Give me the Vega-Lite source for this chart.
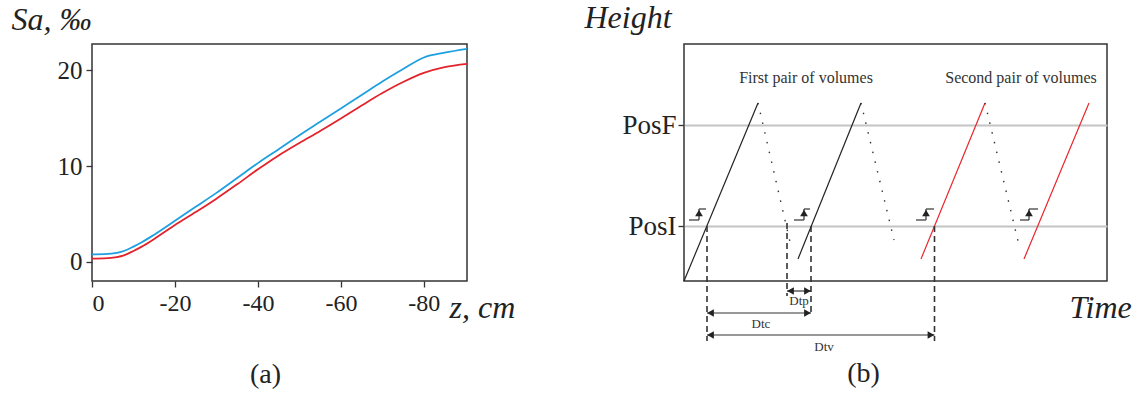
{
  "$schema": "https://vega.github.io/schema/vega-lite/v6.json",
  "padding": {"left": 10, "top": 0, "right": 0, "bottom": 0},
  "bounds": "flush",
  "spacing": 217,
  "config": {
    "view": {"stroke": "#333", "strokeWidth": 1.5},
    "font": "Liberation Serif",
    "axis": {
      "labelFont": "Liberation Serif",
      "titleFont": "Liberation Serif",
      "labelColor": "#222",
      "tickColor": "#333",
      "tickWidth": 1.3,
      "domain": false,
      "grid": false,
      "titleFontWeight": "normal",
      "titleFontStyle": "italic",
      "titleColor": "#222"
    }
  },
  "datasets": {
    "salinity": [
      {"z": 0, "Sa": 0.8, "series": "upper"},
      {"z": -3, "Sa": 0.82, "series": "upper"},
      {"z": -6, "Sa": 0.95, "series": "upper"},
      {"z": -8, "Sa": 1.2, "series": "upper"},
      {"z": -10, "Sa": 1.6, "series": "upper"},
      {"z": -12, "Sa": 2.05, "series": "upper"},
      {"z": -15, "Sa": 2.85, "series": "upper"},
      {"z": -20, "Sa": 4.3, "series": "upper"},
      {"z": -25, "Sa": 5.75, "series": "upper"},
      {"z": -30, "Sa": 7.2, "series": "upper"},
      {"z": -35, "Sa": 8.75, "series": "upper"},
      {"z": -40, "Sa": 10.3, "series": "upper"},
      {"z": -45, "Sa": 11.75, "series": "upper"},
      {"z": -50, "Sa": 13.2, "series": "upper"},
      {"z": -55, "Sa": 14.6, "series": "upper"},
      {"z": -60, "Sa": 16.0, "series": "upper"},
      {"z": -65, "Sa": 17.4, "series": "upper"},
      {"z": -70, "Sa": 18.8, "series": "upper"},
      {"z": -75, "Sa": 20.1, "series": "upper"},
      {"z": -80, "Sa": 21.3, "series": "upper"},
      {"z": -85, "Sa": 21.8, "series": "upper"},
      {"z": -90.4, "Sa": 22.2, "series": "upper"},
      {"z": 0, "Sa": 0.35, "series": "lower"},
      {"z": -3, "Sa": 0.37, "series": "lower"},
      {"z": -6, "Sa": 0.5, "series": "lower"},
      {"z": -8, "Sa": 0.75, "series": "lower"},
      {"z": -10, "Sa": 1.15, "series": "lower"},
      {"z": -12, "Sa": 1.6, "series": "lower"},
      {"z": -15, "Sa": 2.4, "series": "lower"},
      {"z": -20, "Sa": 3.85, "series": "lower"},
      {"z": -25, "Sa": 5.2, "series": "lower"},
      {"z": -30, "Sa": 6.6, "series": "lower"},
      {"z": -35, "Sa": 8.1, "series": "lower"},
      {"z": -40, "Sa": 9.65, "series": "lower"},
      {"z": -45, "Sa": 11.1, "series": "lower"},
      {"z": -50, "Sa": 12.4, "series": "lower"},
      {"z": -55, "Sa": 13.65, "series": "lower"},
      {"z": -60, "Sa": 14.95, "series": "lower"},
      {"z": -65, "Sa": 16.3, "series": "lower"},
      {"z": -70, "Sa": 17.6, "series": "lower"},
      {"z": -75, "Sa": 18.75, "series": "lower"},
      {"z": -80, "Sa": 19.7, "series": "lower"},
      {"z": -85, "Sa": 20.3, "series": "lower"},
      {"z": -90.4, "Sa": 20.65, "series": "lower"}
    ],
    "segments": [
      {"t1": 0, "h1": 0, "t2": 74, "h2": 178, "kind": "solid"},
      {"t1": 114, "h1": 22, "t2": 177, "h2": 178, "kind": "solid"},
      {"t1": 237, "h1": 22, "t2": 301, "h2": 178, "kind": "red"},
      {"t1": 340, "h1": 22, "t2": 405, "h2": 178, "kind": "red"},
      {"t1": 74, "h1": 178, "t2": 106, "h2": 39, "kind": "dotted"},
      {"t1": 177, "h1": 178, "t2": 210, "h2": 41, "kind": "dotted"},
      {"t1": 301, "h1": 178, "t2": 334, "h2": 40, "kind": "dotted"},
      {"t1": 23, "h1": 55, "t2": 23, "h2": -60, "kind": "dashed"},
      {"t1": 103, "h1": 58, "t2": 103, "h2": -15, "kind": "dashed"},
      {"t1": 127, "h1": 55, "t2": 127, "h2": -35, "kind": "dashed"},
      {"t1": 250.5, "h1": 55, "t2": 250.5, "h2": -60, "kind": "dashed"},
      {"t1": 103, "h1": -10, "t2": 127, "h2": -10, "kind": "dim"},
      {"t1": 23, "h1": -32, "t2": 127, "h2": -32, "kind": "dim"},
      {"t1": 23, "h1": -54, "t2": 250.5, "h2": -54, "kind": "dim"},
      {"t1": 5, "h1": 61, "t2": 15, "h2": 61, "kind": "step"},
      {"t1": 15, "h1": 61, "t2": 15, "h2": 72, "kind": "step"},
      {"t1": 15, "h1": 72, "t2": 22, "h2": 72, "kind": "step"},
      {"t1": 110, "h1": 61, "t2": 120, "h2": 61, "kind": "step"},
      {"t1": 120, "h1": 61, "t2": 120, "h2": 72, "kind": "step"},
      {"t1": 120, "h1": 72, "t2": 126, "h2": 72, "kind": "step"},
      {"t1": 232, "h1": 61, "t2": 242, "h2": 61, "kind": "step"},
      {"t1": 242, "h1": 61, "t2": 242, "h2": 72, "kind": "step"},
      {"t1": 242, "h1": 72, "t2": 250, "h2": 72, "kind": "step"},
      {"t1": 336, "h1": 61, "t2": 345, "h2": 61, "kind": "step"},
      {"t1": 345, "h1": 61, "t2": 345, "h2": 72, "kind": "step"},
      {"t1": 345, "h1": 72, "t2": 354, "h2": 72, "kind": "step"}
    ],
    "heads": [
      {"t1": 15, "h1": 68, "dir": "up"},
      {"t1": 120, "h1": 68, "dir": "up"},
      {"t1": 242, "h1": 68, "dir": "up"},
      {"t1": 345, "h1": 68, "dir": "up"},
      {"t1": 106.5, "h1": -10, "dir": "left"},
      {"t1": 123.5, "h1": -10, "dir": "right"},
      {"t1": 26.5, "h1": -32, "dir": "left"},
      {"t1": 123.5, "h1": -32, "dir": "right"},
      {"t1": 26.5, "h1": -54, "dir": "left"},
      {"t1": 247, "h1": -54, "dir": "right"}
    ],
    "labels": [
      {"t1": 122, "h1": 203, "label": "First pair of volumes", "kind": "big"},
      {"t1": 337, "h1": 203, "label": "Second pair of volumes", "kind": "big"},
      {"t1": 115, "h1": -20, "label": "Dtp", "kind": "small"},
      {"t1": 77, "h1": -43, "label": "Dtc", "kind": "small"},
      {"t1": 140, "h1": -66, "label": "Dtv", "kind": "small"}
    ]
  },
  "hconcat": [
    {
      "width": 375,
      "height": 237,
      "title": {"text": "(a)", "orient": "bottom", "anchor": "middle", "frame": "group", "font": "Liberation Serif", "fontSize": 28, "fontWeight": "normal", "color": "#222", "offset": 38, "dx": -14},
      "data": {"name": "salinity"},
      "mark": {"type": "line", "interpolate": "monotone", "strokeWidth": 1.8},
      "encoding": {
        "x": {
          "field": "z", "type": "quantitative",
          "scale": {"domain": [0, -90.4], "nice": false, "zero": false},
          "axis": {"values": [0, -20, -40, -60, -80], "labelExpr": "'' + datum.value", "labelFontSize": 24, "tickSize": 6, "labelPadding": 4,
            "title": "z, cm", "titleFontSize": 32, "titleX": 357, "titleY": 36, "titleAlign": "left", "titleBaseline": "alphabetic", "titleAnchor": null}
        },
        "y": {
          "field": "Sa", "type": "quantitative",
          "scale": {"domain": [-1.98, 22.71], "nice": false, "zero": false},
          "axis": {"values": [0, 10, 20], "labelFontSize": 25, "tickSize": 6, "labelPadding": 4,
            "title": "Sa, ‰", "titleFontSize": 32, "titleAngle": 0, "titleX": -81, "titleY": -15, "titleAlign": "left", "titleBaseline": "alphabetic", "titleAnchor": null}
        },
        "color": {"field": "series", "type": "nominal", "scale": {"domain": ["upper", "lower"], "range": ["#1ea0e0", "#e3232b"]}, "legend": null}
      }
    },
    {
      "width": 423,
      "height": 237,
      "title": {"text": "(b)", "orient": "bottom", "anchor": "middle", "frame": "group", "font": "Liberation Serif", "fontSize": 28, "fontWeight": "normal", "color": "#222", "offset": 6, "dx": -32},
      "encoding": {
        "x": {
          "field": "t1", "type": "quantitative",
          "scale": {"domain": [0, 423], "nice": false, "zero": false},
          "axis": {"labels": false, "ticks": false, "title": "Time", "titleFontSize": 32, "titleX": 385, "titleY": 36, "titleAlign": "left", "titleBaseline": "alphabetic", "titleAnchor": null}
        },
        "y": {
          "field": "h1", "type": "quantitative",
          "scale": {"domain": [0, 237], "nice": false, "zero": false},
          "axis": {"values": [55, 156], "labelExpr": "datum.value > 100 ? 'PosF' : 'PosI'", "labelFontSize": 27, "tickSize": 6, "labelPadding": 2,
            "grid": true, "gridColor": "#c4c4c4", "gridWidth": 2,
            "title": "Height", "titleFontSize": 32, "titleAngle": 0, "titleX": -100, "titleY": -17, "titleAlign": "left", "titleBaseline": "alphabetic", "titleAnchor": null}
        }
      },
      "layer": [
        {
          "data": {"name": "segments"},
          "transform": [{"filter": "datum.kind === 'solid'"}],
          "mark": {"type": "rule", "color": "#222", "strokeWidth": 1.2},
          "encoding": {"x2": {"field": "t2"}, "y2": {"field": "h2"}}
        },
        {
          "data": {"name": "segments"},
          "transform": [{"filter": "datum.kind === 'red'"}],
          "mark": {"type": "rule", "color": "#e8262c", "strokeWidth": 1.2},
          "encoding": {"x2": {"field": "t2"}, "y2": {"field": "h2"}}
        },
        {
          "data": {"name": "segments"},
          "transform": [{"filter": "datum.kind === 'dotted'"}],
          "mark": {"type": "rule", "color": "#333", "strokeWidth": 1.4, "strokeDash": [1.5, 8.5]},
          "encoding": {"x2": {"field": "t2"}, "y2": {"field": "h2"}}
        },
        {
          "data": {"name": "segments"},
          "transform": [{"filter": "datum.kind === 'dashed'"}],
          "mark": {"type": "rule", "color": "#333", "strokeWidth": 1.6, "strokeDash": [6, 4]},
          "encoding": {"x2": {"field": "t2"}, "y2": {"field": "h2"}}
        },
        {
          "data": {"name": "segments"},
          "transform": [{"filter": "datum.kind === 'dim' || datum.kind === 'step'"}],
          "mark": {"type": "rule", "color": "#333", "strokeWidth": 1.2},
          "encoding": {"x2": {"field": "t2"}, "y2": {"field": "h2"}}
        },
        {
          "data": {"name": "heads"},
          "mark": {"type": "point", "filled": true, "size": 60, "color": "#222", "opacity": 1},
          "encoding": {
            "shape": {"field": "dir", "type": "nominal", "scale": {"domain": ["up", "left", "right"], "range": ["triangle-up", "triangle-left", "triangle-right"]}, "legend": null}
          }
        },
        {
          "data": {"name": "labels"},
          "transform": [{"filter": "datum.kind === 'big'"}],
          "mark": {"type": "text", "font": "Liberation Serif", "fontSize": 16, "color": "#333"},
          "encoding": {"text": {"field": "label"}}
        },
        {
          "data": {"name": "labels"},
          "transform": [{"filter": "datum.kind === 'small'"}],
          "mark": {"type": "text", "font": "Liberation Serif", "fontSize": 13, "color": "#333"},
          "encoding": {"text": {"field": "label"}}
        }
      ]
    }
  ]
}
